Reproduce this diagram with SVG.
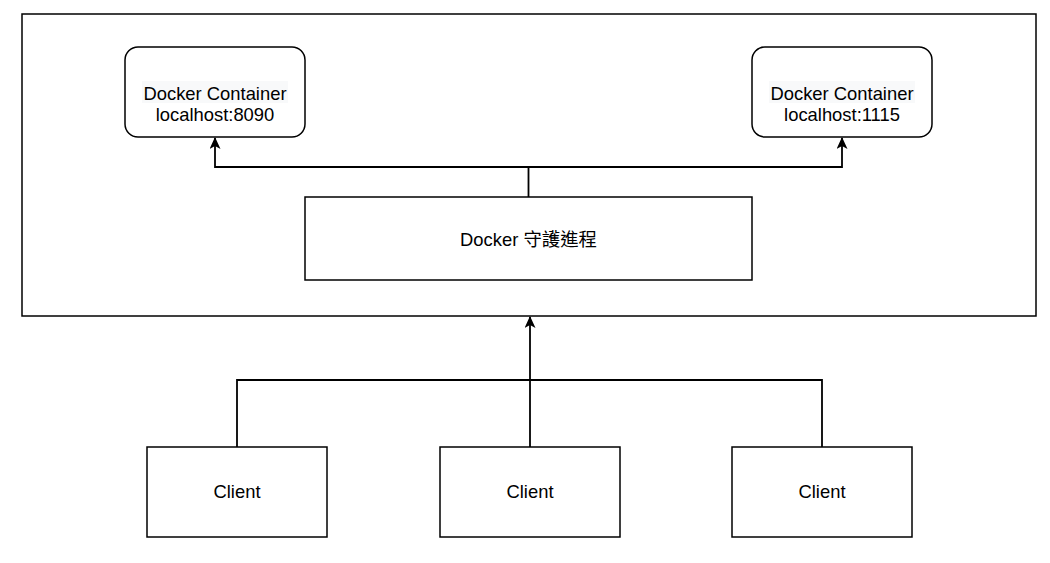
<svg xmlns="http://www.w3.org/2000/svg" width="1050" height="563" viewBox="0 0 1050 563">
<style>
.box{fill:#fff;stroke:#000;stroke-width:1.5}
.t{font-family:"Liberation Sans",Arial,"Noto Sans CJK TC",sans-serif;font-size:18.4px;fill:#000;text-anchor:middle}
.c{fill:none;stroke:#000;stroke-width:1.8}
</style>
<defs>
<marker id="ah" viewBox="0 0 12 11" refX="11" refY="5.5" markerWidth="12" markerHeight="11" markerUnits="userSpaceOnUse" orient="auto">
<path d="M0,0 L12,5.5 L0,11 L3,5.5 Z" fill="#000"/>
</marker>
</defs>
<rect width="1050" height="563" fill="#fff"/>
<g id="host"><rect class="box" x="22" y="14" width="1014" height="302"/></g>
<g id="connectors">
<path class="c" d="M528.5,197 V167 H215 V138" marker-end="url(#ah)"/>
<path class="c" d="M528.5,167 H842 V138" marker-end="url(#ah)"/>
<path class="c" d="M237,447 V380 H822 V447"/>
<path class="c" d="M530,447 V317" marker-end="url(#ah)"/>
</g>
<g id="container1">
<rect class="box" x="125" y="47" width="180" height="90" rx="13"/>
<rect x="142" y="81" width="146" height="22" fill="#f8f9fa"/>
<text class="t" x="215" y="100">Docker Container</text>
<text class="t" x="215" y="121">localhost:8090</text>
</g>
<g id="container2">
<rect class="box" x="752" y="47" width="180" height="90" rx="13"/>
<rect x="769" y="81" width="146" height="22" fill="#f8f9fa"/>
<text class="t" x="842" y="100">Docker Container</text>
<text class="t" x="842" y="121">localhost:1115</text>
</g>
<g id="daemon">
<rect class="box" x="305" y="197" width="447" height="83"/>
<text class="t" x="528.5" y="246">Docker 守護進程</text>
</g>
<g id="client1">
<rect class="box" x="147" y="447" width="180" height="90"/>
<text class="t" x="237" y="498">Client</text>
</g>
<g id="client2">
<rect class="box" x="440" y="447" width="180" height="90"/>
<text class="t" x="530" y="498">Client</text>
</g>
<g id="client3">
<rect class="box" x="732" y="447" width="180" height="90"/>
<text class="t" x="822" y="498">Client</text>
</g>
</svg>
